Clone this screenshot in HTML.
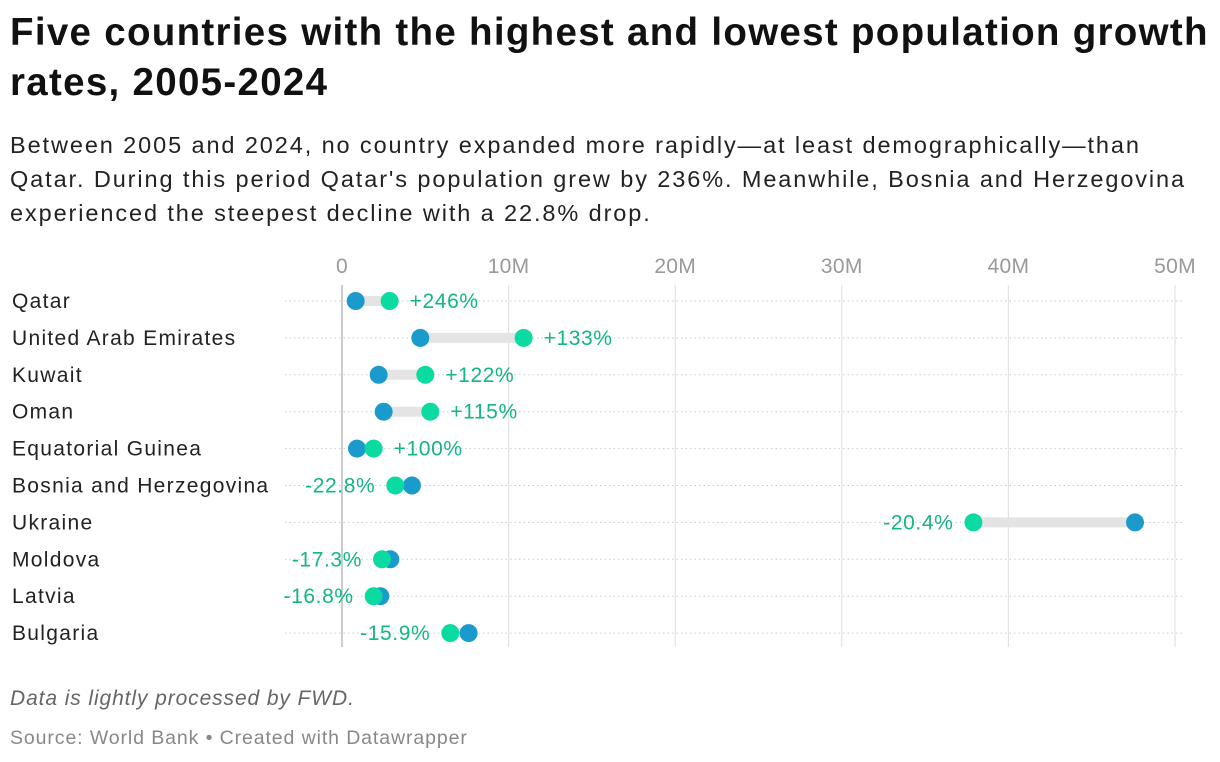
<!DOCTYPE html>
<html><head><meta charset="utf-8"><style>
body{margin:0;width:1220px;height:762px;background:#fff;font-family:"Liberation Sans",sans-serif;overflow:hidden;position:relative}
h1{position:absolute;left:10px;top:8px;margin:0;font-size:38.5px;line-height:50px;font-weight:bold;color:#111;width:1215px;letter-spacing:1.3px;white-space:nowrap}
.sub{position:absolute;left:10px;top:128px;font-size:23.5px;line-height:34px;color:#222;width:1210px;letter-spacing:1.9px;white-space:nowrap}
.note{position:absolute;left:10px;top:687px;font-size:21px;font-style:italic;color:#666;letter-spacing:0.9px}
.src{position:absolute;left:10px;top:727px;font-size:19.5px;color:#888;letter-spacing:0.9px}
svg{position:absolute;left:0;top:0}
</style></head><body>
<h1>Five countries with the highest and lowest population growth<br>rates, 2005-2024</h1>
<div class="sub">Between 2005 and 2024, no country expanded more rapidly—at least demographically—than<br>Qatar. During this period Qatar's population grew by 236%. Meanwhile, Bosnia and Herzegovina<br>experienced the steepest decline with a 22.8% drop.</div>
<svg id="chart" width="1220" height="762"></svg>
<div class="note">Data is lightly processed by FWD.</div>
<div class="src">Source: World Bank • Created with Datawrapper</div>
<script>
const countries=["Qatar","United Arab Emirates","Kuwait","Oman","Equatorial Guinea","Bosnia and Herzegovina","Ukraine","Moldova","Latvia","Bulgaria"];
const pop2005=[0.82,4.7,2.2,2.5,0.9,4.2,47.6,2.9,2.3,7.6];
const pop2024=[2.86,10.9,5.0,5.3,1.9,3.2,37.9,2.4,1.9,6.5];
const changeLabels=["+246%","+133%","+122%","+115%","+100%","-22.8%","-20.4%","-17.3%","-16.8%","-15.9%"];
const ticks=[0,10,20,30,40,50];
const tickLabels=["0","10M","20M","30M","40M","50M"];
const svg=document.getElementById('chart');const NS="http://www.w3.org/2000/svg";
const x=v=>342+v*16.66;const y=i=>301+i*36.9;
function mk(t,a,p){const e=document.createElementNS(NS,t);for(const k in a)e.setAttribute(k,a[k]);(p||svg).appendChild(e);return e;}
ticks.forEach((t,i)=>{
 const l=mk('line',{x1:x(t),x2:x(t),y1:285,y2:647,stroke:i==0?'#aaa':'#e2e2e2','stroke-width':1.2});
 
 
 const tx=mk('text',{x:x(t),y:273,'text-anchor':'middle','font-size':21,fill:'#999','letter-spacing':0.3});tx.textContent=tickLabels[i];
 
 
});
countries.forEach((c,i)=>{
 const yy=y(i);
 const r=mk('line',{x1:285,x2:1185,y1:yy,y2:yy,stroke:'#ccc','stroke-dasharray':'1.5,3','stroke-width':1});
 
 
 const n=mk('text',{x:12,y:yy+7,'font-size':21,fill:'#222','letter-spacing':1.3});n.textContent=c;
 
 
 const a=pop2005[i],b=pop2024[i];
 const bar=mk('line',{x1:x(a),x2:x(b),y1:yy,y2:yy,stroke:'#e4e4e4','stroke-width':10});
 
 
 const d1=mk('circle',{cx:x(a),cy:yy,r:9,fill:'#1b9bcb'});
 
 
 const d2=mk('circle',{cx:x(b),cy:yy,r:9,fill:'#0bdba0'});
 
 
 const grow=b>=a;
 const lt=mk('text',{x:grow?x(b)+20:x(b)-20,y:yy+7,'text-anchor':grow?'start':'end','font-size':21,fill:'#12b688','letter-spacing':0.6});
 lt.textContent=changeLabels[i];
 
 
});
</script>
</body></html>
